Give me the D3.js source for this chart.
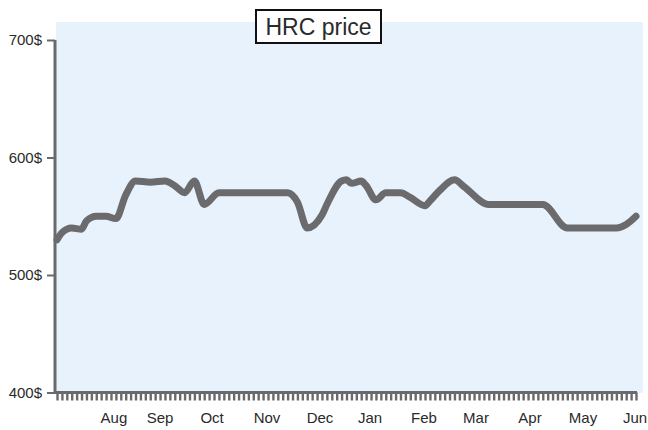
<!DOCTYPE html>
<html>
<head>
<meta charset="utf-8">
<script src="https://cdn.jsdelivr.net/npm/d3@7"></script>
<style>
  body { margin: 0; background: #fff; }
  text { font-family: "Liberation Sans", Arial, sans-serif; fill: #2a2a2a; }
</style>
</head>
<body>
<div id="chart"></div>
<script>
// Data (x = tick index, one tick per data step)
const pointIndex = [0, 1, 3, 5, 6, 8, 10, 12, 14, 16, 19, 22, 24, 26, 28, 30, 33, 37, 47, 49, 51, 54, 55, 58, 59, 60, 62, 63, 65, 67, 70, 72, 75, 76, 78, 81, 83, 88, 99, 104, 114, 116, 118];
const priceValues = [530, 536, 540, 539, 546, 550, 550, 548, 568, 580, 579, 580, 576, 570, 580, 560, 570, 570, 570, 562, 540, 551, 560, 580, 581, 578, 580, 576, 564, 570, 570, 566, 559, 563, 572, 581, 575, 560, 560, 540, 540, 543, 550];
const monthLabels = ["Aug", "Sep", "Oct", "Nov", "Dec", "Jan", "Feb", "Mar", "Apr", "May", "Jun"];
const monthIndex = [11.6, 21, 31.6, 42.8, 53.6, 63.8, 74.8, 85.4, 96.4, 107.2, 117.8];
const yTicks = [400, 500, 600, 700];
const tickCount = 118;

const W = 648, H = 430;
const svg = d3.select("#chart").append("svg")
    .attr("width", W)
    .attr("height", H);

const x = d3.scaleLinear().domain([0, tickCount]).range([57, 636]);
const y = d3.scaleLinear().domain([400, 700]).range([392.5, 40]);

const axisColor = "#6a6a6d";

// background panel
svg.append("rect")
    .attr("x", 56)
    .attr("y", 22)
    .attr("width", 587)
    .attr("height", 371)
    .attr("fill", "#e8f2fc");

// x axis - one small tick per step
const xAxis = svg.append("g")
    .attr("transform", `translate(0, ${y(400)})`)
    .call(d3.axisBottom(x).tickValues(d3.range(0, tickCount + 1)).tickSize(8).tickFormat(""));
xAxis.select(".domain").attr("stroke", axisColor).attr("stroke-width", 3).attr("d", `M55,0H637`);
xAxis.selectAll(".tick line").attr("stroke", axisColor).attr("stroke-width", 2.4);

// month labels
svg.append("g")
    .selectAll("text")
    .data(monthLabels)
    .enter()
    .append("text")
    .attr("x", (d, i) => x(monthIndex[i]))
    .attr("y", 423)
    .attr("text-anchor", "middle")
    .style("font-size", "15px")
    .text(d => d);

// y axis
const yAxis = svg.append("g")
    .attr("transform", "translate(55, 0)")
    .call(d3.axisLeft(y).tickValues(yTicks).tickSize(8).tickPadding(5).tickFormat(d => d + "$"));
yAxis.select(".domain").attr("stroke", axisColor).attr("stroke-width", 3).attr("d", `M0,${y(700)}V${y(400) + 1.5}`);
yAxis.selectAll(".tick text")
    .style("font-size", "15px")
    .style("font-family", "'Liberation Sans', Arial, sans-serif")
    .attr("fill", "#2a2a2a");
yAxis.selectAll(".tick line").attr("stroke", axisColor).attr("stroke-width", 2);

// price line
const line = d3.line()
    .x((d, i) => x(pointIndex[i]))
    .y(d => y(d))
    .curve(d3.curveMonotoneX);

svg.append("path")
    .datum(priceValues)
    .attr("d", line)
    .attr("fill", "none")
    .attr("stroke", "#6b6b6e")
    .attr("stroke-width", 7)
    .attr("stroke-linejoin", "round")
    .attr("stroke-linecap", "round");

// title box
const title = svg.append("g").attr("transform", "translate(318, 0)");
title.append("rect")
    .attr("x", -62)
    .attr("y", 10)
    .attr("width", 125)
    .attr("height", 33)
    .attr("fill", "#fff")
    .attr("stroke", "#111")
    .attr("stroke-width", 2);
title.append("text")
    .attr("x", 0.5)
    .attr("y", 34.5)
    .attr("text-anchor", "middle")
    .style("font-size", "23px")
    .text("HRC price");
</script>
</body>
</html>
